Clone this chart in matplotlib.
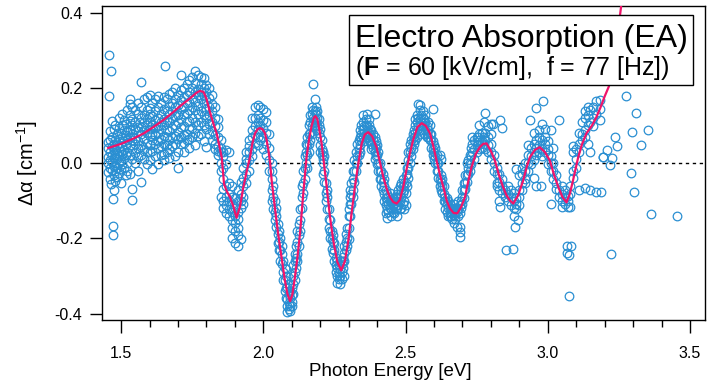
"""Electro-absorption spectrum: measured points plus fitted curve."""
import matplotlib
matplotlib.use("Agg")
import matplotlib.pyplot as plt
from matplotlib.patches import Rectangle
from matplotlib.ticker import MultipleLocator

plt.rcParams["font.family"] = ["Liberation Sans", "DejaVu Sans"]
plt.rcParams["mathtext.fontset"] = "custom"
plt.rcParams["mathtext.rm"] = "Liberation Sans"
plt.rcParams["mathtext.bf"] = "Liberation Sans:bold"
plt.rcParams["mathtext.it"] = "Liberation Sans:italic"
plt.rcParams["axes.unicode_minus"] = False

# fitted curve
fit_x = [1.455, 1.5, 1.543, 1.58, 1.614, 1.65, 1.684, 1.715, 1.742, 1.765, 1.777, 1.79, 1.8,
         1.813, 1.825, 1.836, 1.846, 1.854, 1.862, 1.872, 1.883, 1.895, 1.906, 1.918, 1.93,
         1.942, 1.953, 1.962, 1.971, 1.98, 1.988, 1.997, 2.006, 2.012, 2.018, 2.024, 2.03,
         2.041, 2.052, 2.064, 2.076, 2.085, 2.094, 2.102, 2.111, 2.12, 2.129, 2.14, 2.152,
         2.161, 2.17, 2.178, 2.183, 2.19, 2.197, 2.205, 2.214, 2.223, 2.234, 2.246, 2.26,
         2.274, 2.287, 2.299, 2.31, 2.322, 2.334, 2.346, 2.357, 2.369, 2.383, 2.398, 2.41,
         2.422, 2.434, 2.445, 2.457, 2.469, 2.48, 2.492, 2.504, 2.515, 2.527, 2.542, 2.557,
         2.571, 2.586, 2.598, 2.609, 2.621, 2.633, 2.645, 2.656, 2.669, 2.682, 2.695, 2.709,
         2.72, 2.732, 2.747, 2.761, 2.773, 2.785, 2.799, 2.814, 2.828, 2.843, 2.855, 2.867,
         2.879, 2.896, 2.914, 2.926, 2.937, 2.955, 2.972, 2.99, 3.007, 3.022, 3.037, 3.052,
         3.066, 3.078, 3.089, 3.098, 3.107, 3.12, 3.136, 3.155, 3.171, 3.185, 3.2, 3.215,
         3.228, 3.24, 3.25, 3.26]
fit_y = [0.041, 0.052, 0.066, 0.08, 0.097, 0.116, 0.137, 0.157, 0.173, 0.188, 0.193, 0.19, 0.172,
         0.135, 0.105, 0.08, 0.045, 0.015, -0.055, -0.075, -0.09, -0.115, -0.145, -0.115, -0.063,
         -0.02, 0.016, 0.055, 0.08, 0.091, 0.094, 0.091, 0.08, 0.06, 0.035, 0.0, -0.05,
         -0.12, -0.187, -0.25, -0.312, -0.348, -0.367, -0.35, -0.304, -0.25, -0.187, -0.085, 0.016,
         0.065, 0.1, 0.122, 0.126, 0.118, 0.09, 0.053, -0.005, -0.063, -0.14, -0.205, -0.262,
         -0.285, -0.26, -0.205, -0.135, -0.063, 0.0, 0.053, 0.077, 0.083, 0.072, 0.043, 0.003,
         -0.037, -0.068, -0.09, -0.103, -0.107, -0.097, -0.063, -0.015, 0.025, 0.063, 0.097, 0.107,
         0.1, 0.08, 0.045, 0.008, -0.03, -0.063, -0.1, -0.12, -0.132, -0.133, -0.117, -0.09,
         -0.05, -0.01, 0.025, 0.043, 0.052, 0.053, 0.035, 0.008, -0.03, -0.063, -0.085, -0.099,
         -0.107, -0.085, -0.045, -0.01, 0.016, 0.036, 0.043, 0.03, 0.008, -0.03, -0.063, -0.09,
         -0.104, -0.08, -0.045, -0.015, 0.016, 0.05, 0.08, 0.1, 0.123, 0.148, 0.178, 0.205,
         0.245, 0.31, 0.37, 0.43]

# measured points, grouped as (energy, [values at that energy])
pts_onset = [
    (1.455, [0.04, 0.018, 0.002, -0.022, 0.057]), (1.458, [0.179]), (1.459, [0.288]),
    (1.462, [0.031, 0.008, -0.013, 0.062, 0.087, -0.041]), (1.465, [0.245, -0.055]),
    (1.468, [0.046, 0.022, 0.004, -0.017, 0.071, 0.112]), (1.471, [-0.095, -0.192]),
    (1.473, [-0.166]), (1.474, [0.036, 0.013, -0.006, -0.032, 0.092, 0.052]), (1.476, [-0.07]),
    (1.48, [0.061, 0.038, 0.021, -0.003, -0.021, 0.101, -0.046]),
    (1.486, [0.049, 0.027, 0.011, -0.012, 0.077, -0.036]),
    (1.492, [0.066, 0.043, 0.019, 0.002, -0.026, 0.093, 0.121]),
    (1.498, [0.054, 0.033, 0.008, -0.016, 0.082, -0.052]),
    (1.504, [0.071, 0.046, 0.026, -0.002, 0.102, 0.132]),
    (1.51, [0.059, 0.036, 0.014, -0.011, 0.089, 0.116]),
    (1.516, [0.076, 0.049, 0.021, -0.031, 0.106]),
    (1.522, [0.086, 0.061, 0.029, 0.001, 0.141, -0.019]),
    (1.53, [0.171, 0.158, 0.128, 0.112, 0.088, 0.071, 0.048, 0.022, -0.028]),
    (1.54, [0.151, 0.119, 0.101, 0.079, 0.062, 0.038, 0.012, -0.069, -0.097]),
    (1.55, [0.142, 0.109, 0.092, 0.068, 0.051, 0.028, 0.002]),
    (1.56, [0.161, 0.131, 0.098, 0.086, 0.059, 0.041, 0.016, -0.021]),
    (1.57, [0.217, 0.151, 0.121, 0.098, 0.077, 0.049, 0.021, -0.05]),
    (1.58, [0.172, 0.129, 0.111, 0.088, 0.066, 0.039, 0.011]),
    (1.59, [0.176, 0.141, 0.119, 0.101, 0.081, 0.054, 0.031, -0.002]),
]
pts_peak = [
    (1.6, [0.181, 0.148, 0.131, 0.109, 0.091, 0.072, 0.049, 0.031, 0.009]),
    (1.61, [0.161, 0.126, 0.101, 0.079, 0.061, 0.034, -0.016]),
    (1.62, [0.171, 0.139, 0.116, 0.094, 0.076, 0.051, 0.019]),
    (1.63, [0.179, 0.151, 0.121, 0.099, 0.081, 0.059, 0.041, -0.002]),
    (1.64, [0.162, 0.131, 0.109, 0.091, 0.064, 0.046, 0.021]),
    (1.65, [0.176, 0.146, 0.119, 0.101, 0.074, 0.051, 0.024, 0.009]), (1.655, [0.259]),
    (1.66, [0.171, 0.139, 0.116, 0.089, 0.071, 0.049, 0.031]),
    (1.67, [0.186, 0.154, 0.131, 0.109, 0.086, 0.061, 0.039, 0.014]),
    (1.68, [0.191, 0.161, 0.139, 0.121, 0.094, 0.071, 0.046]),
    (1.69, [0.201, 0.171, 0.149, 0.126, 0.101, 0.074, 0.051, 0.019]),
    (1.7, [0.181, 0.156, 0.129, 0.111, 0.084, 0.066, 0.029, -0.012]),
    (1.71, [0.196, 0.169, 0.146, 0.119, 0.096, 0.069, 0.051, 0.235]),
    (1.72, [0.201, 0.176, 0.149, 0.131, 0.099, 0.076, 0.054, 0.029]),
    (1.73, [0.211, 0.181, 0.161, 0.134, 0.111, 0.079, 0.061]),
    (1.74, [0.221, 0.191, 0.164, 0.141, 0.114, 0.091, 0.064, 0.041]),
    (1.75, [0.231, 0.201, 0.174, 0.151, 0.121, 0.094, 0.071]),
    (1.76, [0.245, 0.214, 0.191, 0.164, 0.141, 0.109, 0.081, 0.049]),
    (1.77, [0.236, 0.199, 0.181, 0.154, 0.131, 0.101, 0.074]),
    (1.78, [0.229, 0.211, 0.189, 0.171, 0.139, 0.111, 0.079]),
    (1.79, [0.226, 0.201, 0.179, 0.161, 0.129, 0.101, 0.059]),
]
pts_dip1 = [
    (1.8, [0.209, 0.191, 0.169, 0.146, 0.119, 0.091, 0.044]),
    (1.81, [0.201, 0.174, 0.151, 0.129, 0.106, 0.079]),
    (1.82, [0.181, 0.159, 0.139, 0.111, 0.086, 0.061]),
    (1.83, [0.151, 0.121, 0.099, 0.076, 0.051, 0.039]),
    (1.84, [0.119, 0.096, 0.069, 0.046, 0.021, 0.034]),
    (1.85, [0.061, 0.029, 0.001, -0.021, 0.041, -0.09]),
    (1.86, [0.019, -0.011, -0.041, -0.069, 0.031, -0.101, -0.12]),
    (1.87, [0.036, -0.002, -0.061, -0.089, -0.111, -0.131]),
    (1.88, [0.029, -0.051, -0.081, -0.099, -0.121, -0.141]),
    (1.89, [-0.061, -0.089, -0.109, -0.129, -0.151, -0.171, -0.2]),
    (1.9, [-0.091, -0.119, -0.141, -0.159, -0.181, -0.211]),
    (1.91, [-0.071, -0.101, -0.129, -0.149, -0.171, -0.219, -0.191]),
    (1.92, [-0.049, -0.081, -0.101, -0.119, -0.201]),
    (1.93, [-0.011, -0.039, -0.061, -0.089, -0.109]),
]
pts_osc1 = [
    (1.94, [0.031, 0.001, -0.029, -0.051, 0.011]),
    (1.95, [0.061, 0.029, 0.009, -0.021, 0.046]),
    (1.96, [0.121, 0.089, 0.071, 0.039, 0.019]),
    (1.97, [0.151, 0.121, 0.099, 0.076, 0.054]),
    (1.98, [0.155, 0.129, 0.109, 0.091, 0.069, 0.049]),
    (1.99, [0.149, 0.121, 0.101, 0.086, 0.061]),
    (2.0, [0.145, 0.116, 0.094, 0.071, 0.039]),
    (2.01, [0.136, 0.109, 0.081, 0.051, 0.021]),
    (2.02, [0.079, 0.041, 0.009, -0.021]),
    (2.03, [0.001, -0.041, -0.071, -0.099, -0.019]),
    (2.035, [-0.089, -0.121, -0.061]), (2.04, [-0.101, -0.129, -0.151]),
    (2.045, [-0.141, -0.169, -0.119]), (2.05, [-0.161, -0.189, -0.211]),
    (2.055, [-0.181, -0.209, -0.231]), (2.06, [-0.199, -0.231, -0.259]),
    (2.065, [-0.241, -0.269, -0.221]), (2.07, [-0.261, -0.289, -0.311]),
    (2.075, [-0.279, -0.311, -0.339]), (2.08, [-0.301, -0.331, -0.359, -0.281]),
    (2.082, [-0.396]), (2.085, [-0.329, -0.361, -0.381]),
    (2.09, [-0.349, -0.371, -0.389, -0.321]), (2.095, [-0.359, -0.379, -0.392, -0.341]),
    (2.1, [-0.351, -0.369, -0.381, -0.331]), (2.105, [-0.321, -0.349, -0.301, -0.271]),
    (2.11, [-0.289, -0.261, -0.311, -0.241]), (2.115, [-0.251, -0.279, -0.221]),
    (2.12, [-0.209, -0.241, -0.181, -0.261]), (2.125, [-0.161, -0.191, -0.219]),
    (2.13, [-0.121, -0.151, -0.179]), (2.135, [-0.089, -0.119, -0.061]),
    (2.14, [-0.051, -0.079, -0.021]), (2.145, [-0.011, 0.019, -0.041]),
    (2.15, [0.029, 0.001, 0.051]),
]
pts_osc2 = [
    (2.155, [0.021, 0.049, 0.071, -0.011]), (2.16, [0.051, 0.079, 0.101, 0.029]),
    (2.165, [0.081, 0.109, 0.129, 0.061]), (2.17, [0.099, 0.131, 0.151, 0.079]),
    (2.175, [0.111, 0.141, 0.121]), (2.176, [0.211]), (2.18, [0.119, 0.139, 0.172, 0.101]),
    (2.185, [0.131, 0.111, 0.151]), (2.19, [0.121, 0.099, 0.139, 0.089]),
    (2.195, [0.101, 0.081, 0.119]), (2.2, [0.071, 0.049, 0.091, 0.029]),
    (2.205, [0.039, 0.021, 0.061]), (2.21, [0.001, 0.031, -0.029, 0.011]),
    (2.215, [-0.021, -0.049, 0.019]), (2.22, [-0.051, -0.079, -0.101]),
    (2.225, [-0.089, -0.121, -0.071]), (2.23, [-0.121, -0.149, -0.171]),
    (2.235, [-0.151, -0.179, -0.199]), (2.24, [-0.181, -0.201, -0.229]),
    (2.245, [-0.209, -0.239, -0.191]), (2.25, [-0.231, -0.259, -0.211]),
    (2.255, [-0.251, -0.271, -0.289]), (2.26, [-0.261, -0.279, -0.301, -0.319]),
    (2.265, [-0.271, -0.291, -0.309]), (2.27, [-0.281, -0.299, -0.259, -0.321]),
    (2.275, [-0.269, -0.289, -0.309]), (2.28, [-0.259, -0.279, -0.249]),
    (2.285, [-0.239, -0.261, -0.221, -0.299]), (2.29, [-0.209, -0.231, -0.189]),
    (2.295, [-0.171, -0.199, -0.219]), (2.3, [-0.139, -0.171, -0.201, -0.121]),
    (2.305, [-0.109, -0.141, -0.089, -0.071]), (2.31, [-0.081, -0.051, -0.109]),
    (2.315, [-0.041, -0.071, -0.019, -0.089]), (2.32, [-0.021, 0.009, -0.049]),
    (2.325, [0.001, 0.029, -0.019]), (2.33, [0.019, 0.051, 0.002]),
    (2.335, [0.039, 0.061, 0.021]), (2.34, [0.049, 0.071, 0.089, 0.031]),
    (2.345, [0.061, 0.079, 0.101]), (2.35, [0.069, 0.091, 0.109, 0.129]),
    (2.355, [0.081, 0.099, 0.059]), (2.36, [0.079, 0.101, 0.119, 0.069]),
    (2.363, [0.132]), (2.365, [0.085, 0.071, 0.099]), (2.37, [0.081, 0.101, 0.061, 0.119]),
    (2.375, [0.075, 0.059, 0.091]), (2.38, [0.069, 0.051, 0.089, 0.039]),
    (2.385, [0.061, 0.041, 0.079]), (2.392, [0.132, 0.049, 0.029, 0.069, 0.011]),
    (2.395, [0.041, 0.019, 0.059]), (2.4, [0.021, -0.001, 0.049]),
    (2.405, [0.001, -0.021, 0.029]), (2.41, [-0.019, -0.041, 0.002]),
    (2.415, [-0.041, -0.061, -0.021]), (2.42, [-0.049, -0.071, -0.029]),
    (2.425, [-0.061, -0.081, -0.041, -0.101]), (2.43, [-0.071, -0.091, -0.111, -0.131]),
    (2.435, [-0.081, -0.101, -0.121, -0.145]), (2.44, [-0.089, -0.109, -0.129]),
    (2.445, [-0.101, -0.119, -0.079]), (2.45, [-0.099, -0.121, -0.139]),
    (2.455, [-0.111, -0.129, -0.091]), (2.46, [-0.109, -0.131, -0.099]),
    (2.465, [-0.111, -0.121, -0.089]), (2.47, [-0.101, -0.119, -0.081, -0.139]),
    (2.475, [-0.091, -0.111, -0.071]), (2.48, [-0.081, -0.101, -0.061, -0.121]),
    (2.485, [-0.071, -0.089, -0.051, -0.119]), (2.49, [-0.061, -0.079, -0.041, -0.109]),
]
pts_osc3 = [
    (2.495, [-0.051, -0.071, -0.099, -0.121]), (2.5, [-0.031, -0.051, -0.079, -0.111]),
    (2.505, [-0.011, -0.029, -0.061]), (2.51, [0.009, -0.011, 0.031, -0.039]),
    (2.515, [0.029, 0.001, 0.051]), (2.52, [0.041, 0.019, 0.061]),
    (2.525, [0.059, 0.039, 0.079]), (2.53, [0.071, 0.051, 0.089]),
    (2.535, [0.081, 0.101, 0.061, 0.119]), (2.54, [0.089, 0.111, 0.071, 0.129]),
    (2.545, [0.099, 0.121, 0.159]), (2.55, [0.101, 0.119, 0.079, 0.141, 0.155]),
    (2.555, [0.111, 0.129, 0.089]), (2.56, [0.099, 0.121, 0.139]),
    (2.565, [0.101, 0.119, 0.079]), (2.57, [0.089, 0.111, 0.129]),
    (2.575, [0.081, 0.099, 0.069]), (2.58, [0.071, 0.089, 0.109]),
    (2.585, [0.079, 0.061, 0.101]), (2.59, [0.061, 0.041, 0.079]),
    (2.595, [0.039, 0.059, 0.021, 0.144]), (2.6, [0.031, 0.011, 0.049]),
    (2.605, [0.019, 0.001, 0.041]), (2.61, [0.002, -0.019, 0.021]),
    (2.615, [-0.021, -0.039, 0.001]), (2.62, [-0.041, -0.059, 0.021]),
    (2.625, [-0.049, -0.071, -0.031, 0.011]), (2.63, [-0.061, -0.079, -0.041]),
    (2.635, [-0.081, -0.099, -0.059]), (2.64, [-0.101, -0.121, -0.089]),
    (2.645, [-0.109, -0.129, -0.091]), (2.65, [-0.119, -0.141, -0.101]),
    (2.655, [-0.121, -0.109, -0.139]), (2.66, [-0.131, -0.119, -0.141]),
    (2.665, [-0.129, -0.119, -0.149]), (2.67, [-0.139, -0.121, -0.159, -0.109]),
    (2.675, [-0.131, -0.119, -0.149]), (2.68, [-0.129, -0.121, -0.169]),
    (2.685, [-0.121, -0.139, -0.101]), (2.69, [-0.111, -0.131, -0.183, -0.196, -0.17]),
    (2.695, [-0.099, -0.119]), (2.7, [-0.089, -0.109, -0.071]),
    (2.705, [-0.071, -0.091, -0.051]), (2.71, [-0.051, -0.069, -0.031]),
    (2.715, [-0.031, -0.049, 0.001]), (2.72, [-0.011, 0.009, -0.029]),
    (2.725, [0.002, 0.021, -0.019]), (2.73, [0.019, 0.041, -0.001]),
    (2.735, [0.031, 0.051, 0.071]), (2.74, [0.039, 0.061, 0.011]),
    (2.75, [0.049, 0.069, 0.029]), (2.755, [0.051, 0.071]),
    (2.76, [0.061, 0.039, 0.079, 0.101]), (2.77, [0.059, 0.081, 0.041]),
    (2.775, [0.069, 0.051, 0.109]), (2.779, [0.134]), (2.78, [0.061, 0.039, 0.081]),
    (2.79, [0.049, 0.071, 0.029, 0.099]), (2.8, [0.031, 0.051, 0.011, 0.079, 0.106]),
    (2.806, [0.106]), (2.81, [0.001, 0.021, -0.019]), (2.82, [-0.029, -0.011, -0.051, -0.061]),
    (2.83, [-0.049, -0.071, -0.029, -0.101]), (2.832, [0.115, -0.116]),
    (2.84, [-0.061, -0.079, -0.041, 0.093]), (2.85, [-0.071, -0.089]),
    (2.855, [-0.231]), (2.86, [-0.081, -0.101, -0.059]), (2.87, [-0.089, -0.111, -0.071]),
    (2.879, [-0.229]), (2.88, [-0.101, -0.119, -0.079, -0.141]),
    (2.884, [-0.17]), (2.89, [-0.091, -0.109, -0.121, -0.015]), (2.896, [-0.152]),
    (2.9, [-0.071, -0.089, -0.111, -0.031]), (2.91, [-0.051, -0.029, -0.071, -0.011]),
    (2.92, [-0.021, 0.001, -0.041, -0.051]), (2.93, [0.001, 0.021, 0.049, -0.019]),
]
pts_tail = [
    (2.937, [0.115]), (2.94, [0.019, 0.041, -0.001]), (2.95, [0.029, 0.051, 0.08, 0.009, -0.04]),
    (2.96, [0.041, 0.061, 0.148, 0.021, -0.06]), (2.97, [0.049, 0.031, 0.071, 0.089]),
    (2.975, [-0.059]), (2.98, [0.039, 0.061, 0.104, 0.019]), (2.984, [0.165]),
    (2.99, [0.031, 0.051, 0.091, 0.071]), (3.0, [0.021, 0.039, -0.001, 0.059]),
    (3.01, [0.001, 0.019, -0.021, -0.107, 0.089]), (3.02, [-0.021, -0.041, 0.002, 0.041]),
    (3.03, [-0.051, -0.069, -0.031]), (3.04, [-0.071, -0.089, 0.115]),
    (3.05, [-0.081, -0.099, -0.061, -0.116]), (3.06, [-0.089, -0.109, -0.071]),
    (3.066, [-0.239, -0.221]), (3.07, [-0.101, -0.086, -0.116]),
    (3.075, [-0.352, -0.245]), (3.08, [-0.061, -0.081, -0.116]), (3.083, [-0.22]),
    (3.09, [-0.039, -0.019, 0.031, 0.045]), (3.1, [-0.011, 0.011, 0.039]),
    (3.11, [0.029, 0.051, -0.07, 0.081]), (3.12, [0.061, 0.079, 0.109]),
    (3.13, [0.089, 0.121, 0.071, 0.139, -0.065]), (3.14, [0.101, 0.129, 0.15, 0.051]),
    (3.15, [0.109, 0.141, -0.07, 0.029]), (3.16, [0.121, 0.149, 0.099]),
    (3.17, [0.131, 0.165, -0.075]), (3.183, [0.168, 0.146, 0.115]),
    (3.189, [-0.075]), (3.193, [0.017]), (3.195, [0.017]), (3.209, [0.036]),
    (3.218, [-0.005]), (3.222, [-0.241]), (3.227, [0.013]), (3.235, [0.069]),
    (3.244, [0.046]), (3.275, [0.179]), (3.294, [-0.026]), (3.298, [0.083]),
    (3.303, [-0.076]), (3.312, [0.135]), (3.327, [0.048]), (3.351, [0.09]),
    (3.362, [-0.134]), (3.454, [-0.139]),
]

x_ticks = [1.5, 2.0, 2.5, 3.0, 3.5]
y_ticks = [-0.4, -0.2, 0.0, 0.2, 0.4]

meas_x, meas_y = [], []
for seg in (pts_onset, pts_peak, pts_dip1, pts_osc1, pts_osc2, pts_osc3, pts_tail):
    for e, vals in seg:
        for v in vals:
            meas_x.append(e)
            meas_y.append(v)

fig = plt.figure(figsize=(7.1, 3.88), dpi=100)
ax = fig.add_axes([0.1437, 0.1753, 0.8493, 0.8092])

ax.axhline(0.0, color="black", lw=1.0, ls=(0, (2.4, 2.6)), zorder=1)
ax.plot(meas_x, meas_y, "o", mfc="none", mec="#2a8fd2", ms=6.2, mew=0.9, zorder=2)
ax.plot(fit_x, fit_y, "-", color="#f0146a", lw=1.6, zorder=3)

ax.set_xlim(1.433, 3.553)
ax.set_ylim(-0.417, 0.419)
ax.set_xticks(x_ticks)
ax.set_xticklabels([f"{t:.1f}" for t in x_ticks])
ax.xaxis.set_minor_locator(MultipleLocator(0.1))
ax.set_yticks(y_ticks)
ax.set_yticklabels([f"{t:.1f}" for t in y_ticks])

for s in ax.spines.values():
    s.set_linewidth(1.0)
ax.tick_params(axis="x", which="major", direction="out", length=9.4, width=1.0,
               labelsize=11.5, pad=9)
ax.tick_params(axis="x", which="minor", direction="out", length=5, width=1.0)
ax.tick_params(axis="y", which="major", direction="out", length=8.6, width=1.0,
               labelsize=11.5, pad=5.5)

ax.set_xlabel("Photon Energy [eV]", fontsize=13.5)
ax.xaxis.set_label_coords(0.4784, -0.137)
ax.set_ylabel("Δα [cm$^{-1}$]", fontsize=14.5, va="center")
ax.yaxis.set_label_coords(-0.124, 0.5)

# title box, drawn above the data so the fit curve hides under it
ax.add_patch(Rectangle((0.4096, 0.748), 0.5704, 0.223, transform=ax.transAxes,
                       fc="white", ec="black", lw=1.0, zorder=10))
ax.text(0.4196, 0.8694, "Electro Absorption (EA)", transform=ax.transAxes,
        fontsize=23, ha="left", va="baseline", zorder=11)
ax.text(0.4196, 0.780, r"($\mathbf{F}$ = 60 [kV/cm],  f = 77 [Hz])", transform=ax.transAxes,
        fontsize=18, ha="left", va="baseline", zorder=11)

fig.savefig("out.png", dpi=100)
